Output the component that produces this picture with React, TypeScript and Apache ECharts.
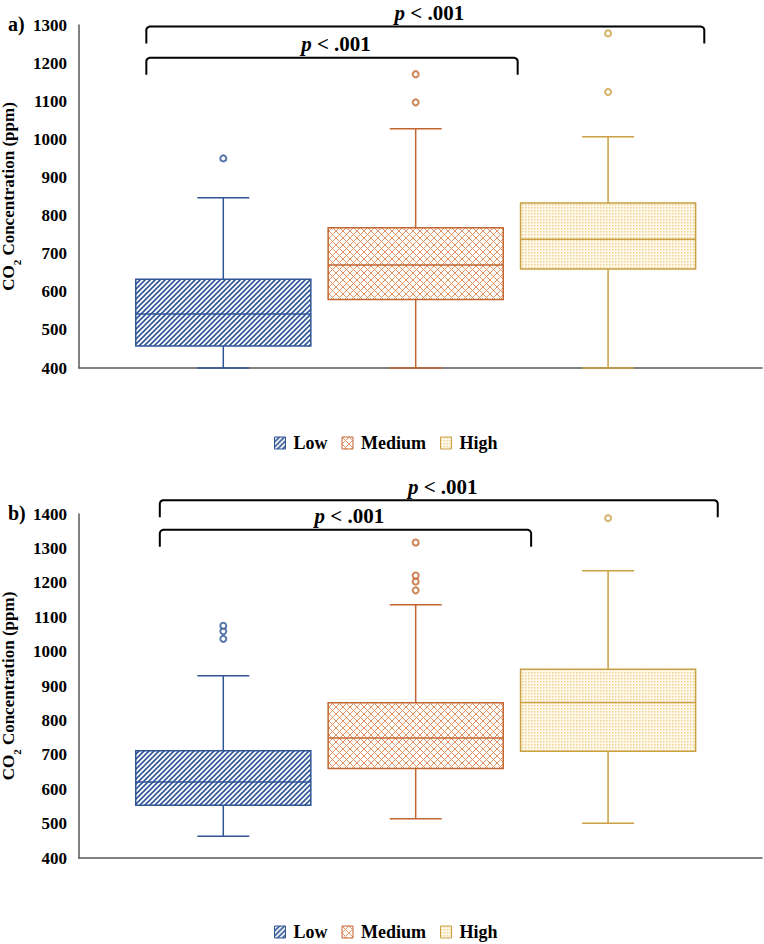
import React, { useEffect, useRef } from 'react';
import * as echarts from 'echarts';

const FONT = '"Liberation Serif", "Times New Roman", serif';

// Exposure groups and their stroke colours
const GROUPS = ['Low', 'Medium', 'High'];
const COLORS = ['#2F5597', '#C2652E', '#C9A043'];

// Box statistics per group: [min, q1, median, q3, max] in ppm
const A_LOW = [400, 458, 542, 633, 847];
const A_MEDIUM = [400, 580, 670, 768, 1028];
const A_HIGH = [400, 660, 738, 833, 1007];
const A_OUT_LOW = [950];
const A_OUT_MEDIUM = [1097, 1171];
const A_OUT_HIGH = [1124, 1278];

const B_LOW = [463, 553, 621, 712, 930];
const B_MEDIUM = [514, 660, 749, 851, 1136];
const B_HIGH = [501, 710, 852, 949, 1235];
const B_OUT_LOW = [1037, 1059, 1075];
const B_OUT_MEDIUM = [1178, 1204, 1221, 1317];
const B_OUT_HIGH = [1388];

// Y axis ranges: [min, max, interval]
const A_RANGE = [400, 1300, 100];
const B_RANGE = [400, 1400, 100];

// Significance brackets: [start x, end x, height in ppm]
const A_BRACKETS = [
  [-0.4, 1.53, 1214],
  [-0.4, 2.5, 1296],
];
const B_BRACKETS = [
  [-0.33, 1.6, 1354],
  [-0.33, 2.57, 1440],
];
const P_LABEL = '{i|p} < .001';

const PANEL_LABELS = ['a)', 'b)'];

const svgUrl = (w: number, h: number, body: string) =>
  'data:image/svg+xml;charset=utf-8,' +
  encodeURIComponent(
    `<svg xmlns="http://www.w3.org/2000/svg" width="${w}" height="${h}">${body}</svg>`
  );

// Fill patterns: wide upward diagonal, diagonal cross-hatch, fine dots
const PATTERNS = [
  {
    image: svgUrl(
      5,
      5,
      '<rect width="5" height="5" fill="#fff"/><path d="M-1,6 L6,-1 M-2,2 L2,-2 M3,7 L7,3" stroke="#2F5597" stroke-width="1.6"/>'
    ),
    repeat: 'repeat',
    imageWidth: 5,
    imageHeight: 5,
  },
  {
    image: svgUrl(
      7,
      7,
      '<rect width="7" height="7" fill="#fff"/><path d="M0,0 L7,7 M7,0 L0,7" stroke="#E39361" stroke-width="1"/>'
    ),
    repeat: 'repeat',
    imageWidth: 7,
    imageHeight: 7,
  },
  {
    image: svgUrl(
      3,
      3,
      '<rect width="3" height="3" fill="#FFF9EC"/><rect x="0" y="0" width="1.5" height="1.5" fill="#EFD191"/>'
    ),
    repeat: 'repeat',
    imageWidth: 3,
    imageHeight: 3,
  },
];

const BOX_W = 0.91;
const CAP_W = 0.27;

function boxRenderer(g: number) {
  return (params: any, api: any) => {
    const x = api.value(0);
    const pMin = api.coord([x, api.value(1)]);
    const pQ1 = api.coord([x, api.value(2)]);
    const pMed = api.coord([x, api.value(3)]);
    const pQ3 = api.coord([x, api.value(4)]);
    const pMax = api.coord([x, api.value(5)]);
    const hb = api.size([BOX_W, 0])[0] / 2;
    const hc = api.size([CAP_W, 0])[0] / 2;
    const cx = pMed[0];
    const line = { stroke: COLORS[g], lineWidth: 1.5 };
    return {
      type: 'group',
      children: [
        { type: 'line', shape: { x1: cx, y1: pMin[1], x2: cx, y2: pQ1[1] }, style: line },
        { type: 'line', shape: { x1: cx, y1: pQ3[1], x2: cx, y2: pMax[1] }, style: line },
        { type: 'line', shape: { x1: cx - hc, y1: pMin[1], x2: cx + hc, y2: pMin[1] }, style: line },
        { type: 'line', shape: { x1: cx - hc, y1: pMax[1], x2: cx + hc, y2: pMax[1] }, style: line },
        {
          type: 'rect',
          shape: { x: cx - hb, y: pQ3[1], width: hb * 2, height: pQ1[1] - pQ3[1] },
          style: { fill: PATTERNS[g], stroke: COLORS[g], lineWidth: 1.5 },
        },
        { type: 'line', shape: { x1: cx - hb, y1: pMed[1], x2: cx + hb, y2: pMed[1] }, style: line },
      ],
    };
  };
}

function bracketRenderer(params: any, api: any) {
  const p0 = api.coord([api.value(0), api.value(2)]);
  const p1 = api.coord([api.value(1), api.value(2)]);
  const drop = 17;
  const r = 3;
  return {
    type: 'group',
    children: [
      {
        type: 'polyline',
        shape: {
          points: [
            [p0[0], p0[1] + drop],
            [p0[0], p0[1] + r],
            [p0[0] + 1, p0[1] + 1],
            [p0[0] + r, p0[1]],
            [p1[0] - r, p1[1]],
            [p1[0] - 1, p1[1] + 1],
            [p1[0], p1[1] + r],
            [p1[0], p1[1] + drop],
          ],
        },
        style: { stroke: '#000', lineWidth: 2, fill: null, lineJoin: 'round' },
      },
      {
        type: 'text',
        style: {
          text: P_LABEL,
          x: (p0[0] + p1[0]) / 2 + 4,
          y: p0[1] - 3,
          align: 'center',
          verticalAlign: 'bottom',
          fontFamily: FONT,
          fontWeight: 'bold',
          fontSize: 21,
          fill: '#000',
          rich: {
            i: { fontFamily: FONT, fontWeight: 'bold', fontStyle: 'italic', fontSize: 21, fill: '#000' },
          },
        },
      },
    ],
  };
}

const PANELS = [
  {
    boxes: [A_LOW, A_MEDIUM, A_HIGH],
    outliers: [A_OUT_LOW, A_OUT_MEDIUM, A_OUT_HIGH],
    range: A_RANGE,
    brackets: A_BRACKETS,
  },
  {
    boxes: [B_LOW, B_MEDIUM, B_HIGH],
    outliers: [B_OUT_LOW, B_OUT_MEDIUM, B_OUT_HIGH],
    range: B_RANGE,
    brackets: B_BRACKETS,
  },
];

const GRIDS = [
  { left: 79, top: 25, width: 683, height: 343, outerBoundsMode: 'none' },
  { left: 79, top: 514, width: 683, height: 344, outerBoundsMode: 'none' },
];
const LEGEND_TOPS = [429, 918];

export default function App() {
  const ref = useRef<HTMLDivElement>(null);

  useEffect(() => {
    if (!ref.current) return;
    const chart = echarts.init(ref.current, undefined, { renderer: 'svg' });

    const series: any[] = [];
    PANELS.forEach((panel, p) => {
      GROUPS.forEach((name, g) => {
        series.push({
          type: 'custom',
          name,
          xAxisIndex: p,
          yAxisIndex: p,
          renderItem: boxRenderer(g),
          encode: { x: 0, y: [1, 2, 3, 4, 5] },
          itemStyle: { color: COLORS[g] },
          data: [[g, ...panel.boxes[g]]],
          silent: true,
          z: 2,
        });
        series.push({
          type: 'scatter',
          name,
          xAxisIndex: p,
          yAxisIndex: p,
          symbol: 'emptyCircle',
          symbolSize: 6,
          itemStyle: { color: COLORS[g], borderWidth: 1.6 },
          data: panel.outliers[g].map((v) => [g, v]),
          silent: true,
          z: 3,
        });
      });
      series.push({
        type: 'custom',
        name: 'significance',
        xAxisIndex: p,
        yAxisIndex: p,
        renderItem: bracketRenderer,
        encode: { x: [0, 1], y: 2 },
        clip: false,
        data: panel.brackets,
        silent: true,
        z: 4,
      });
    });

    const axisName = 'CO{s|2} Concentration (ppm)';

    chart.setOption({
      animation: false,
      grid: GRIDS,
      xAxis: PANELS.map((_, p) => ({
        gridIndex: p,
        type: 'value',
        min: -0.75,
        max: 2.8,
        axisLine: { show: true, onZero: false, lineStyle: { color: '#595959', width: 1.5 } },
        axisTick: { show: false },
        axisLabel: { show: false },
        splitLine: { show: false },
      })),
      yAxis: PANELS.map((panel, p) => ({
        gridIndex: p,
        type: 'value',
        min: panel.range[0],
        max: panel.range[1],
        interval: panel.range[2],
        axisLine: { show: true, onZero: false, lineStyle: { color: '#595959', width: 1.5 } },
        axisTick: { show: false },
        splitLine: { show: false },
        axisLabel: {
          fontFamily: FONT,
          fontWeight: 'bold',
          fontSize: 17,
          color: '#000',
          margin: 12,
          formatter: (v: number) => String(v),
        },
        name: axisName,
        nameLocation: 'middle',
        nameGap: 53,
        nameTextStyle: {
          fontFamily: FONT,
          fontWeight: 'bold',
          fontSize: 17,
          color: '#000',
          lineHeight: 19,
          verticalAlign: 'bottom',
          rich: {
            s: {
              fontFamily: FONT,
              fontWeight: 'bold',
              fontSize: 11,
              color: '#000',
              lineHeight: 19,
              verticalAlign: 'bottom',
              padding: [0, 0, -4, 0],
            },
          },
        },
      })),
      legend: LEGEND_TOPS.map((top) => ({
        top,
        left: 269,
        icon: 'rect',
        itemWidth: 11,
        itemHeight: 12,
        itemGap: 14,
        selectedMode: false,
        textStyle: {
          fontFamily: FONT,
          fontWeight: 'bold',
          fontSize: 18,
          color: '#000',
          padding: [0, 0, 0, 3],
        },
        data: GROUPS.map((name, g) => ({
          name,
          itemStyle: { color: PATTERNS[g], borderColor: COLORS[g], borderWidth: 1 },
        })),
      })),
      graphic: PANEL_LABELS.map((text, p) => ({
        type: 'text',
        left: 8,
        top: GRIDS[p].top - 11,
        style: { text, fontFamily: FONT, fontWeight: 'bold', fontSize: 20, fill: '#000' },
      })),
      series,
    });

    return () => chart.dispose();
  }, []);

  return (
    <div
      ref={ref}
      style={{ position: 'absolute', left: 0, top: 0, width: 764, height: 944, background: '#fff' }}
    />
  );
}
